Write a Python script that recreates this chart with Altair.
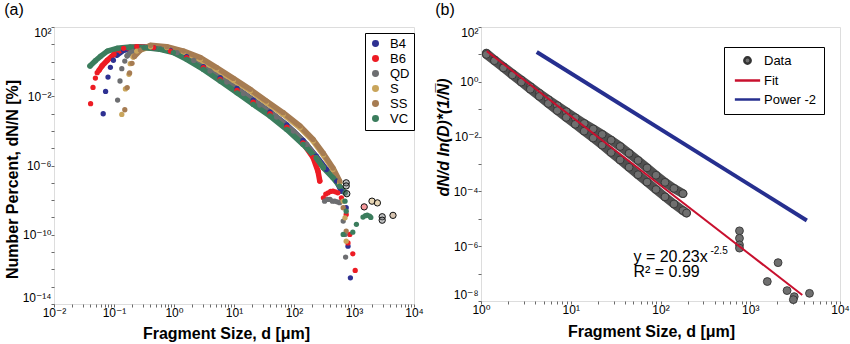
import altair as alt
import pandas as pd

FONT = "Liberation Sans, Arial, DejaVu Sans, sans-serif"

# ---------------- Panel (a): log10(d [um]) , log10(dN/N [%]) ----
SERIES = ["B4", "B6", "QD", "S", "SS", "VC"]
COLORS = ["#2e3192", "#ed1c24", "#6d6e71", "#c9a55c", "#a67c52", "#3b7d5d"]

B4_HEAD = [(-1.18, -3.01), (-1.14, -1.72), (-1.10, -0.89), (-1.06, -0.33), (-1.01, 0.08)]
B4_BODY = [(-0.95, 0.38), (-0.84, 0.65), (-0.62, 0.84), (-0.34, 0.81), (-0.06, 0.65), (0.21, 0.29),
           (0.49, -0.29), (0.77, -0.93), (1.05, -1.55), (1.32, -2.22), (1.60, -2.91), (1.88, -3.66),
           (2.15, -4.55), (2.37, -5.46), (2.54, -6.23), (2.71, -6.90), (2.79, -7.48)]
B4_TAIL = [(2.87, -8.44), (2.90, -10.66), (2.94, -12.49)]

B6_HEAD = [(-1.39, -2.43), (-1.35, -1.49), (-1.31, -0.95), (-1.28, -0.64)]
B6_BODY = [(-1.25, -0.50), (-1.20, -0.25), (-1.11, 0.08), (-1.00, 0.42), (-0.84, 0.77), (-0.62, 0.86),
           (-0.34, 0.81), (-0.06, 0.61), (0.21, 0.23), (0.49, -0.35), (0.77, -1.02), (1.05, -1.66),
           (1.32, -2.34), (1.60, -3.01), (1.88, -3.78), (2.15, -4.69), (2.32, -5.55), (2.40, -6.33),
           (2.43, -6.90)]
B6_TAIL = [(2.49, -7.87), (2.53, -7.65), (2.57, -7.58), (2.61, -7.50), (2.65, -7.48), (2.69, -7.52),
           (2.73, -7.58), (2.79, -7.87), (2.87, -8.83), (2.90, -10.47), (2.93, -9.98), (2.98, -11.10),
           (3.02, -12.06)]

QD_HEAD = [(-0.94, -2.22), (-0.90, -1.12), (-0.87, -0.41), (-0.82, 0.03)]
QD_BODY = [(-0.78, 0.34), (-0.70, 0.61), (-0.50, 0.82), (-0.23, 0.75), (0.05, 0.52), (0.33, 0.07),
           (0.60, -0.54), (0.88, -1.18), (1.16, -1.84), (1.43, -2.51), (1.71, -3.20), (1.99, -4.01),
           (2.21, -4.78), (2.37, -5.55), (2.49, -6.13)]
QD_TAIL = [(2.51, -8.06), (2.56, -7.96), (2.60, -7.96), (2.64, -8.06), (2.68, -8.06), (2.72, -8.10),
           (2.76, -8.15), (2.82, -9.21), (2.85, -9.98), (2.86, -11.29)]

S_HEAD = [(-0.87, -3.05), (-0.81, -1.58), (-0.75, -0.73), (-0.73, -0.12)]
S_BODY = [(-0.68, 0.27), (-0.62, 0.61), (-0.39, 0.86), (-0.12, 0.81), (0.16, 0.57), (0.44, 0.13),
          (0.71, -0.45), (0.99, -1.07), (1.27, -1.70), (1.54, -2.37), (1.82, -3.05), (2.10, -3.82),
          (2.32, -4.59), (2.49, -5.40), (2.65, -6.23), (2.76, -7.00)]
S_TAIL = [(2.82, -8.06), (2.85, -9.02), (2.87, -10.37)]

SS_HEAD = [(-0.82, -2.78), (-0.78, -1.50), (-0.74, -0.65), (-0.70, -0.10)]
SS_BODY = [(-0.66, 0.30), (-0.56, 0.67), (-0.39, 0.94), (-0.12, 0.86), (0.16, 0.61), (0.44, 0.23),
           (0.71, -0.35), (0.99, -0.97), (1.27, -1.60), (1.54, -2.28), (1.82, -2.95), (2.10, -3.72),
           (2.32, -4.50), (2.49, -5.30), (2.65, -6.15), (2.76, -6.90)]
SS_TAIL = [(2.82, -8.44), (2.87, -9.79)]

VC_HEAD = []
VC_BODY = [(-1.40, -0.25), (-1.31, 0.05), (-1.22, 0.32), (-1.11, 0.61), (-0.95, 0.77), (-0.73, 0.84),
           (-0.50, 0.81), (-0.23, 0.71), (-0.01, 0.52), (0.21, 0.13), (0.49, -0.45), (0.77, -1.12),
           (1.05, -1.80), (1.32, -2.47), (1.60, -3.14), (1.88, -3.92), (2.15, -4.78), (2.37, -5.55),
           (2.49, -6.13), (2.65, -6.71), (2.76, -7.19), (2.85, -7.58)]
VC_TAIL = [(2.85, -8.06), (2.87, -8.64), (2.82, -9.98), (2.98, -9.85), (3.04, -9.40), (3.15, -8.98),
           (3.19, -8.90), (3.22, -8.87), (3.26, -8.92), (3.28, -9.00)]

# outlined (pale) points at the far tail: (series, log d, log N)
EDGED = [("QD", 2.87, -7.00), ("QD", 2.87, -7.18), ("QD", 2.88, -7.63), ("B6", 3.17, -8.39),
         ("S", 3.30, -8.06), ("S", 3.39, -8.16), ("QD", 3.47, -8.96), ("QD", 3.47, -9.16),
         ("SS", 3.65, -8.88)]

PANEL_A = {
    "B4": (B4_HEAD, B4_BODY, B4_TAIL), "B6": (B6_HEAD, B6_BODY, B6_TAIL),
    "QD": (QD_HEAD, QD_BODY, QD_TAIL), "S": (S_HEAD, S_BODY, S_TAIL),
    "SS": (SS_HEAD, SS_BODY, SS_TAIL), "VC": (VC_HEAD, VC_BODY, VC_TAIL),
}

rows = []
for s, (head, body, tail) in PANEL_A.items():
    for part, pts in (("head", head), ("body", body), ("tail", tail)):
        for lx, ly in pts:
            rows.append({"series": s, "part": part, "d": 10 ** lx, "n": 10 ** ly})
dfa = pd.DataFrame(rows)
dfe = pd.DataFrame([{"series": s, "d": 10 ** lx, "n": 10 ** ly} for s, lx, ly in EDGED])

# ---------------- Panel (b) ----------------
UPPER_LOGD = [0.06, 0.15, 0.25, 0.35, 0.45, 0.55, 0.65, 0.75, 0.85, 0.95, 1.05, 1.15, 1.25, 1.35,
              1.45, 1.55, 1.65, 1.75, 1.85, 1.95, 2.05, 2.15, 2.25]
UPPER_LOGV = [1.04, 0.80, 0.55, 0.30, 0.06, -0.18, -0.42, -0.65, -0.87, -1.09, -1.31, -1.52, -1.72,
              -1.92, -2.13, -2.36, -2.61, -2.87, -3.14, -3.41, -3.67, -3.89, -4.08]
LOWER_LOGD = [0.06, 0.15, 0.25, 0.35, 0.45, 0.55, 0.65, 0.75, 0.85, 0.95, 1.05, 1.15, 1.25, 1.35,
              1.45, 1.55, 1.65, 1.75, 1.85, 1.95, 2.05, 2.15, 2.25, 2.29]
LOWER_LOGV = [1.00, 0.77, 0.51, 0.25, -0.01, -0.27, -0.53, -0.79, -1.05, -1.30, -1.55, -1.80, -2.05,
              -2.31, -2.58, -2.85, -3.12, -3.39, -3.66, -3.93, -4.20, -4.46, -4.70, -4.79]
OUT_LOGD = [2.88, 2.88, 2.88, 2.88, 3.19, 3.31, 3.41, 3.49, 3.48, 3.66]
OUT_LOGV = [-5.44, -5.71, -5.95, -6.07, -7.29, -6.60, -7.62, -7.84, -7.95, -7.72]

FIT_X = [1.16, 3800]
FIT_Y = [13.2, 1.66e-8]
POW_X = [4.18, 4270]
POW_Y = [12.2, 8.7e-6]

LEG_B = ["Data", "Fit", "Power -2"]
FILL_B = ["#6f6f6f", "#c8102e", "#262f8f"]
STROKE_B = ["#333333", "#c8102e", "#262f8f"]
LINE_SYMBOL = "M-4,0H4"

ANN_TEXT = ["y = 20.23x", "R\u00b2 = 0.99"]
ANN_X = [50, 50]
ANN_Y = [4.2e-7, 1.1e-7]
SUP_TEXT = ["-2.5"]
SUP_X = [50]
SUP_Y = [6.6e-7]

strands = []
for name, lx, ly in (("u", UPPER_LOGD, UPPER_LOGV), ("l", LOWER_LOGD, LOWER_LOGV)):
    for a, b in zip(lx, ly):
        strands.append({"strand": name, "d": 10 ** a, "v": 10 ** b, "series": "Data"})
dfb_band = pd.DataFrame(strands)
dfb_pts = pd.concat([dfb_band, pd.DataFrame({"strand": "o", "d": [10 ** a for a in OUT_LOGD],
                                             "v": [10 ** b for b in OUT_LOGV], "series": "Data"})])
dfb_fit = pd.DataFrame({"d": FIT_X, "v": FIT_Y, "series": "Fit"})
dfb_pow = pd.DataFrame({"d": POW_X, "v": POW_Y, "series": "Power -2"})
dfb_ann = pd.DataFrame({"t": ANN_TEXT, "d": ANN_X, "v": ANN_Y})
dfb_sup = pd.DataFrame({"t": SUP_TEXT, "d": SUP_X, "v": SUP_Y})

# ---------------- axis helpers ----------------
SUP = {"-": "\u207b", "0": "\u2070", "1": "\u00b9", "2": "\u00b2", "3": "\u00b3", "4": "\u2074",
       "5": "\u2075", "6": "\u2076", "7": "\u2077", "8": "\u2078", "9": "\u2079"}


def lab_expr(exps):
    E = "round(log(datum.value)/LN10)"
    parts = [f"{E} == {e} ? '10{''.join(SUP[c] for c in str(e))}'" for e in exps]
    return f"abs(log(datum.value)/LN10 - {E}) > 0.01 ? '' : " + " : ".join(parts) + " : ''"


def log_values(lo, hi, minors=True):
    vals = []
    for e in range(lo, hi):
        for k in (range(1, 10) if minors else [1]):
            vals.append(k * 10.0 ** e)
    vals.append(10.0 ** hi)
    return vals


def axis(title, values, exps, **kw):
    opts = dict(tickSize=3, tickColor="#444", tickWidth=0.8, labelFontSize=12, labelColor="black",
                labelFont=FONT, titleFont=FONT, titleFontSize=16, titleFontWeight="bold",
                titleColor="black", domain=False, grid=False, labelPadding=1,
                labelFlush=False, labelOverlap=False)
    opts.update(kw)
    return alt.Axis(title=title, values=values, labelExpr=lab_expr(exps), **opts)


xa = alt.X("d:Q", scale=alt.Scale(type="log", domain=[1e-2, 1e4]),
           axis=axis("Fragment Size, d [\u03bcm]", log_values(-2, 4), list(range(-2, 5)),
                     titlePadding=7, labelPadding=0, titleX=172))
ya = alt.Y("n:Q", scale=alt.Scale(type="log", domain=[1e-14, 1e2]),
           axis=axis("Number Percent, dN/N [%]", log_values(-14, 2, False), [2, -2, -6, -10, -14],
                     titlePadding=2, labelPadding=0, labelFlush=True, titleY=152))

leg_a = alt.Legend(title=None, orient="none", legendX=311, legendY=6, strokeColor="black",
                   padding=4, labelFontSize=13, labelFont=FONT, symbolType="circle", symbolSize=30,
                   rowPadding=1, labelOffset=8, fillColor="white")
col_a = alt.Color("series:N", scale=alt.Scale(domain=SERIES, range=COLORS), legend=leg_a)

base_a = alt.Chart(dfa)
lines_a = base_a.transform_filter("datum.part == 'body'").mark_line(
    strokeWidth=5.5, strokeCap="round", strokeJoin="round").encode(x=xa, y=ya, color=col_a, detail="series:N")
dots_a = base_a.mark_circle(size=28, opacity=1).encode(x=xa, y=ya, color=col_a)
edged_a = alt.Chart(dfe).mark_circle(size=40, stroke="#111", strokeWidth=1, fillOpacity=0.45,
                                     opacity=1).encode(
    x=xa, y=ya, color=alt.Color("series:N", scale=alt.Scale(domain=SERIES, range=COLORS), legend=None))

panel_a = alt.layer(lines_a, dots_a, edged_a).properties(
    width=360, height=277,
    title=alt.TitleParams("(a)", anchor="start", frame="bounds", fontSize=16, fontWeight="normal",
                          font=FONT, offset=8))

# panel b
xb = alt.X("d:Q", scale=alt.Scale(type="log", domain=[1, 1e4]),
           axis=axis("Fragment Size, d [\u03bcm]", log_values(0, 4), list(range(0, 5)),
                     titlePadding=8, labelPadding=0, titleX=170))
yb = alt.Y("v:Q", scale=alt.Scale(type="log", domain=[1e-8, 1e2]),
           axis=axis("dN/d ln(D)*(1/N\u0305)", log_values(-8, 2, False), [2, 0, -2, -4, -6, -8],
                     titlePadding=2, labelPadding=0, labelFlush=True, titleFontStyle="italic",
                     titleY=110))

leg_b = alt.Legend(title=None, orient="none", legendX=243, legendY=20, strokeColor="black",
                   padding=7, labelFontSize=13, labelFont=FONT, symbolSize=40, rowPadding=5,
                   symbolOffset=10, labelOffset=10, symbolStrokeWidth=2.5, fillColor="white")
fill_b = alt.Fill("series:N", scale=alt.Scale(domain=LEG_B, range=FILL_B), legend=leg_b)
stroke_b = alt.Stroke("series:N", scale=alt.Scale(domain=LEG_B, range=STROKE_B), legend=leg_b)
shape_b = alt.Shape("series:N", scale=alt.Scale(domain=LEG_B, range=["circle", LINE_SYMBOL, LINE_SYMBOL]),
                    legend=leg_b)

band_b = alt.Chart(dfb_band).mark_line(strokeWidth=9, color="#505050", strokeCap="round").encode(
    x=xb, y=yb, detail="strand:N")
pts_b = alt.Chart(dfb_pts).mark_point(filled=True, size=62, strokeWidth=0.9, opacity=1).encode(
    x=xb, y=yb, fill=fill_b, stroke=stroke_b, shape=shape_b)
fit_b = alt.Chart(dfb_fit).mark_line(strokeWidth=2).encode(x=xb, y=yb, stroke=stroke_b)
pow_b = alt.Chart(dfb_pow).mark_line(strokeWidth=4).encode(x=xb, y=yb, stroke=stroke_b)
ann_b = alt.Chart(dfb_ann).mark_text(align="left", baseline="middle", font=FONT, color="black",
                                     fontSize=16).encode(x=xb, y=yb, text="t:N")
sup_b = alt.Chart(dfb_sup).mark_text(align="left", baseline="middle", font=FONT, color="black",
                                     fontSize=10, dx=77).encode(x=xb, y=yb, text="t:N")

panel_b = alt.layer(band_b, pts_b, fit_b, pow_b, ann_b, sup_b).properties(
    width=359, height=274,
    title=alt.TitleParams("(b)", anchor="start", frame="bounds", fontSize=16, fontWeight="normal",
                          font=FONT, offset=8))

chart = alt.hconcat(panel_a, panel_b, spacing=10).resolve_scale(
    x="independent", y="independent", color="independent", fill="independent",
    stroke="independent", shape="independent").configure_view(
    stroke="black", strokeWidth=2).configure(
    padding={"left": 3, "top": 1, "right": 0, "bottom": 0}, font=FONT, background="white")

chart.save("out.html", embed_options={"renderer": "svg", "actions": False})
